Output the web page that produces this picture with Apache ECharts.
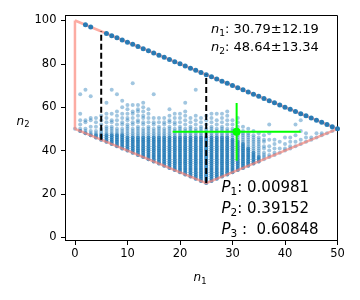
<!DOCTYPE html>
<html><head><meta charset="utf-8">
<script src="https://cdn.jsdelivr.net/npm/echarts@6/dist/echarts.min.js"></script>
<style>html,body{margin:0;padding:0;background:#fff}#c{width:360px;height:300px}</style>
</head><body><div id="c"></div>
<script>
// n1 value of each column of samples
const n1Values = [0,1,2,3,4,5,6,7,8,9,10,11,12,13,14,15,16,17,18,19,20,21,22,23,24,25,26,27,28,29,30,31,32,33,34,35,36,37,38,39,40,41,42,43,44,45,46,47,48,49,50];
// n2 values of the samples in each column
const n2ByColumn = [
 [50],
 [49,50,52,54,57,66],
 [48,49,50,53,54,68],
 [47,48,49,51,54,55,65],
 [46,47,48,49,51,53,55],
 [45,46,47,48,49,50,52,54,56],
 [44,45,46,47,48,49,50,51,53,55,57,62],
 [43,44,45,46,47,48,49,50,51,53,54,57,68],
 [42,43,44,45,46,47,48,49,50,52,54,56,58,66],
 [41,42,43,44,45,46,47,48,49,50,52,53,55,57,60,63],
 [40,41,42,43,44,45,46,47,48,49,50,51,52,54,55,57,59,61],
 [39,40,41,42,43,44,45,46,47,48,49,50,52,53,55,57,58,61,71],
 [38,39,40,41,42,43,44,45,46,47,48,49,50,51,53,54,56,58,59,61],
 [37,38,39,40,41,42,43,44,45,46,47,48,49,50,52,53,55,56,58,60,62],
 [36,37,38,39,40,41,42,43,44,45,46,47,48,49,50,51,53,55,57,59],
 [35,36,37,38,39,40,41,42,43,44,45,46,47,48,49,50,52,53,55,66],
 [34,35,36,37,38,39,40,41,42,43,44,45,46,47,48,49,50,51,53,55],
 [33,34,35,36,37,38,39,40,41,42,43,44,45,46,47,48,49,50,52,53,55],
 [32,33,34,35,36,37,38,39,40,41,42,43,44,45,46,47,48,49,50,51,53,54,56,59],
 [31,32,33,34,35,36,37,38,39,40,41,42,43,44,45,46,47,48,49,50,52,53,55,57],
 [30,31,32,33,34,35,36,37,38,39,40,41,42,43,44,45,46,47,48,49,50,51,53,55,57],
 [29,30,31,32,33,34,35,36,37,38,39,40,41,42,43,44,45,46,47,48,49,50,52,54,56,58,62],
 [28,29,30,31,32,33,34,35,36,37,38,39,40,41,42,43,44,45,46,47,48,49,50,51,53,55],
 [27,28,29,30,31,32,33,34,35,36,37,38,39,40,41,42,43,44,45,46,47,48,49,50,52,54,56,68],
 [26,27,28,29,30,31,32,33,34,35,36,37,38,39,40,41,42,43,44,45,46,47,48,49,50,51,53,55],
 [25,26,27,28,29,30,31,32,33,34,35,36,37,38,39,40,41,42,43,44,45,46,47,48,49,50,52,54,56],
 [26,27,28,29,30,31,32,33,34,35,36,37,38,39,40,41,42,43,44,45,46,47,48,49,50,51,53,55,57],
 [27,28,29,30,31,32,33,34,35,36,37,38,39,40,41,42,43,44,45,46,47,48,49,50,52,54,57],
 [28,29,30,31,32,33,34,35,36,37,38,39,40,41,42,43,44,45,46,47,48,49,50,51,53,55,57],
 [29,30,31,32,33,34,35,36,37,38,39,40,41,42,43,44,45,46,47,48,49,50,52,54,56,58],
 [30,31,32,33,34,35,36,37,38,39,40,41,42,43,44,45,46,47,48,49,50,52,54],
 [31,32,33,34,35,36,37,38,39,40,41,42,43,44,45,46,47,48,49,51,53,55],
 [32,33,34,35,36,37,38,39,40,41,42,43,44,45,46,47,48,49,51],
 [33,34,35,36,37,38,39,40,41,42,43,44,45,46,47,48,50],
 [34,35,36,37,38,39,40,41,42,43,44,45,46,47,49],
 [35,36,37,38,39,40,41,42,43,44,45,46,48],
 [36,37,38,39,41,42,44,45,47],
 [37,38,40,42,45,48,52],
 [38,39,41,43,45],
 [39,41,44],
 [40,41,43,46],
 [41,42,44,46],
 [42,44,47,52],
 [43,45,49,54],
 [44,46,48],
 [45,46],
 [46,48],
 [47,48],
 [48],
 [49],
 []
];
// repeated samples (overlapping draws) in the dense lower part of each column
const coreN2ByColumn = [
 [],[49],[48],[47],[46,47],[45,46,47],[44,45,46,47],[43,44,45,46,47],[42,43,44,45,46,47],[41,42,43,44,45,46,47],
 [40,41,42,43,44,45,46],
 [39,40,41,42,43,44,45,46],
 [38,39,40,41,42,43,44,45,46],
 [37,38,39,40,41,42,43,44,45,46],
 [36,37,38,39,40,41,42,43,44,45,46],
 [35,36,37,38,39,40,41,42,43,44,45,46],
 [34,35,36,37,38,39,40,41,42,43,44,45,46],
 [33,34,35,36,37,38,39,40,41,42,43,44,45,46],
 [32,33,34,35,36,37,38,39,40,41,42,43,44,45,46],
 [31,32,33,34,35,36,37,38,39,40,41,42,43,44,45,46],
 [30,31,32,33,34,35,36,37,38,39,40,41,42,43,44,45,46],
 [29,30,31,32,33,34,35,36,37,38,39,40,41,42,43,44,45,46],
 [28,29,30,31,32,33,34,35,36,37,38,39,40,41,42,43,44,45,46],
 [27,28,29,30,31,32,33,34,35,36,37,38,39,40,41,42,43,44,45,46],
 [26,27,28,29,30,31,32,33,34,35,36,37,38,39,40,41,42,43,44,45,46],
 [25,26,27,28,29,30,31,32,33,34,35,36,37,38,39,40,41,42,43,44,45,46],
 [26,27,28,29,30,31,32,33,34,35,36,37,38,39,40,41,42,43,44,45,46],
 [27,28,29,30,31,32,33,34,35,36,37,38,39,40,41,42,43,44,45,46],
 [28,29,30,31,32,33,34,35,36,37,38,39,40,41,42,43,44,45,46],
 [29,30,31,32,33,34,35,36,37,38,39,40,41,42,43,44,45,46],
 [30,31,32,33,34,35,36,37,38,39,40,41,42,43,44,45],
 [31,32,33,34,35,36,37,38,39,40,41,42,43,44],
 [32,33,34,35,36,37,38,39,40,41,42,43],
 [33,34,35,36,37,38,39,40,41],
 [34,35,36,37,38,39],
 [35,36,37],
 [],[],[],[],[],[],[],[],[],[],[],[],[],[],[]
];
// samples lying on the upper edge n1 + n2 = 100
const topLineN1 = [2,3,6,7,8,9,10,11,12,13,14,15,16,17,18,19,20,21,22,23,24,25,26,27,28,29,30,31,32,33,34,35,36,37,38,39,40,41,42,43,44,45,46,47,48,49,50];
const topLineN2 = [98,97,94,93,92,91,90,89,88,87,86,85,84,83,82,81,80,79,78,77,76,75,74,73,72,71,70,69,68,67,66,65,64,63,62,61,60,59,58,57,56,55,54,53,52,51,50];
// feasible region outline
const boundaryN1 = [0,50,25,0,0];
const boundaryN2 = [100,50,25,50,100];
// dashed cuts
const cutN1 = [5,25];
const cutLowN2 = [45,25];
const cutHighN2 = [95,75];
// mean and spread
const meanN1 = 30.79, sdN1 = 12.19;
const meanN2 = 48.64, sdN2 = 13.34;
// probabilities
const probIndex = ['1','2','3'];
const probText = ['0.00981','0.39152','0.60848'];
// ticks
const xTicks = [0,10,20,30,40,50];
const yTicks = [0,20,40,60,80,100];

const FONT = 'DejaVu Sans';
const sampleData = [];
n2ByColumn.forEach((ys, i) => ys.forEach(y => sampleData.push([n1Values[i], y])));
const coreData = [];
coreN2ByColumn.forEach((ys, i) => ys.forEach(y => coreData.push([n1Values[i], y])));
const topData = topLineN1.map((x, i) => [x, topLineN2[i]]);
const boundaryData = boundaryN1.map((x, i) => [x, boundaryN2[i]]);

const series = [
  { type: 'scatter', data: sampleData, symbolSize: 4, itemStyle: { color: '#1f77b4', opacity: 0.42 }, z: 2, silent: true, animation: false },
  { type: 'scatter', data: coreData, symbolSize: 4, itemStyle: { color: '#1f77b4', opacity: 0.62 }, z: 2, silent: true, animation: false },
  { type: 'line', data: boundaryData, showSymbol: false, symbol: 'none', z: 3, silent: true, animation: false,
    lineStyle: { color: '#fa8072', opacity: 0.65, width: 2.5 } },
  { type: 'scatter', data: topData, symbolSize: 5, itemStyle: { color: '#1f77b4', opacity: 0.95 }, z: 4, silent: true, animation: false }
];
cutN1.forEach((x, i) => series.push({
  type: 'line', data: [[x, cutLowN2[i]], [x, cutHighN2[i]]], symbol: 'none', z: 5, silent: true, animation: false,
  lineStyle: { color: '#000', width: 2, type: [6, 3] }
}));
series.push({ type: 'line', data: [[meanN1 - sdN1, meanN2], [meanN1 + sdN1, meanN2]], symbol: 'none', z: 6, silent: true, animation: false,
  lineStyle: { color: '#00ff00', width: 2 } });
series.push({ type: 'line', data: [[meanN1, meanN2 - sdN2], [meanN1, meanN2 + sdN2]], symbol: 'none', z: 6, silent: true, animation: false,
  lineStyle: { color: '#00ff00', width: 2 } });
series.push({ type: 'scatter', data: [[meanN1, meanN2]], symbolSize: 8, itemStyle: { color: '#00ff00', opacity: 1 }, z: 7, silent: true, animation: false });

function richText(sym, idx, rest, size) {
  const lh = Math.round(size * 1.25);
  return {
    text: '{i|' + sym + '}{s|' + idx + '}{t|' + rest + '}',
    rich: {
      i: { fontFamily: FONT, fontStyle: 'italic', fontSize: size, lineHeight: lh, fill: '#000', verticalAlign: 'middle' },
      s: { fontFamily: FONT, fontSize: size * 0.7, lineHeight: size * 0.55, fill: '#000', verticalAlign: 'bottom' },
      t: { fontFamily: FONT, fontSize: size, lineHeight: lh, fill: '#000', verticalAlign: 'middle' }
    }
  };
}
const graphics = [];
graphics.push({ type: 'text', x: 211, y: 30, style: Object.assign(richText('n', '1', ': 30.79±12.19', 13), { verticalAlign: 'middle', align: 'left' }) });
graphics.push({ type: 'text', x: 211, y: 48, style: Object.assign(richText('n', '2', ': 48.64±13.34', 13), { verticalAlign: 'middle', align: 'left' }) });
const pY = [188, 209, 230];
probIndex.forEach((k, i) => {
  const sep = i === 2 ? ' :  ' : ': ';
  graphics.push({ type: 'text', x: 221.5, y: pY[i], style: Object.assign(richText('P', k, sep + probText[i], 15), { verticalAlign: 'middle', align: 'left' }) });
});
graphics.push({ type: 'text', x: 200, y: 278, style: Object.assign(richText('n', '1', '', 12), { verticalAlign: 'middle', align: 'center' }) });
graphics.push({ type: 'text', x: 23, y: 121.5, style: Object.assign(richText('n', '2', '', 12), { verticalAlign: 'middle', align: 'center' }) });

const chart = echarts.init(document.getElementById('c'), null, { renderer: 'canvas' });
chart.setOption({
  animation: false,
  grid: { left: 65.5, right: 22.5, top: 15.5, bottom: 59.5, show: true, borderColor: '#000', borderWidth: 1, backgroundColor: 'transparent' },
  xAxis: {
    type: 'value', min: -1.8, max: 50,
    axisLine: { show: true, onZero: false, lineStyle: { color: '#000', width: 1 } },
    axisTick: { show: true, length: 4.5, customValues: xTicks, lineStyle: { color: '#000' } },
    axisLabel: { customValues: xTicks, color: '#000', fontFamily: FONT, fontSize: 11.5, margin: 8 },
    splitLine: { show: false }
  },
  yAxis: {
    type: 'value', min: -1.5, max: 102.3,
    axisLine: { show: true, onZero: false, lineStyle: { color: '#000', width: 1 } },
    axisTick: { show: true, length: 4.5, customValues: yTicks, lineStyle: { color: '#000' } },
    axisLabel: { customValues: yTicks, color: '#000', fontFamily: FONT, fontSize: 11.5, margin: 9 },
    splitLine: { show: false }
  },
  series: series,
  graphic: graphics
});
</script>
</body></html>
